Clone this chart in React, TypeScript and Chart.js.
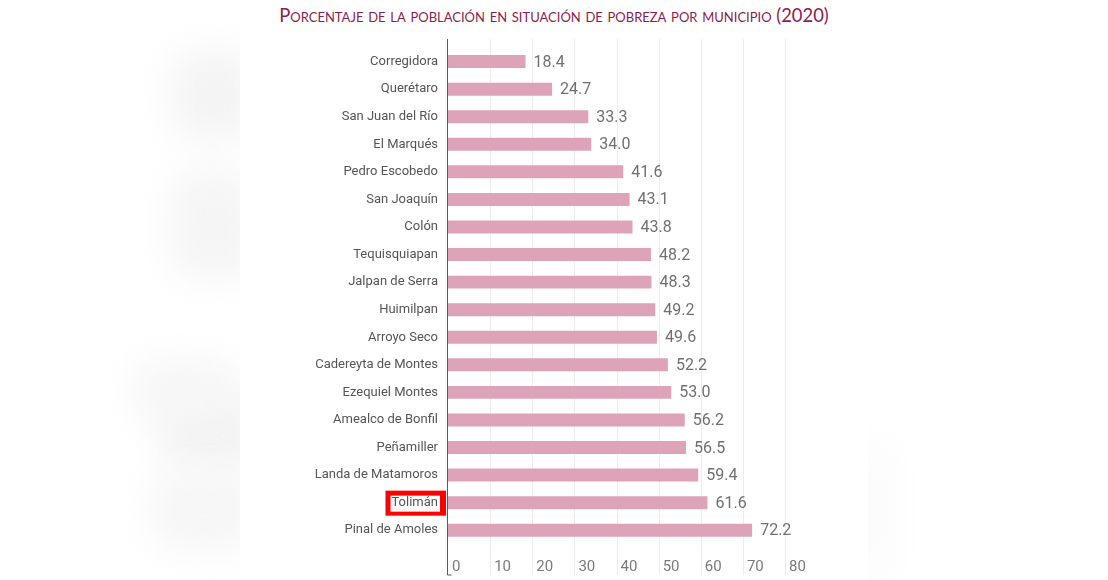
import React, { useEffect, useRef } from 'react';
import { Chart, registerables } from 'chart.js';
Chart.register(...registerables);

const title = 'Porcentaje de la población en situación de pobreza por municipio (2020)';
const categories = [
  'Corregidora', 'Querétaro', 'San Juan del Río', 'El Marqués', 'Pedro Escobedo',
  'San Joaquín', 'Colón', 'Tequisquiapan', 'Jalpan de Serra', 'Huimilpan',
  'Arroyo Seco', 'Cadereyta de Montes', 'Ezequiel Montes', 'Amealco de Bonfil',
  'Peñamiller', 'Landa de Matamoros', 'Tolimán', 'Pinal de Amoles',
];
const values = [18.4, 24.7, 33.3, 34.0, 41.6, 43.1, 43.8, 48.2, 48.3, 49.2, 49.6, 52.2, 53.0, 56.2, 56.5, 59.4, 61.6, 72.2];
const highlighted = 'Tolimán';
const xMin = 0;
const xMax = 80;
const xStep = 10;

const FONT = 'Roboto, "Noto Sans", sans-serif';
const CAT_FONT_SIZE = 13;

export default function App() {
  const ref = useRef<HTMLCanvasElement | null>(null);

  useEffect(() => {
    document.body.style.margin = '0';
    const canvas = ref.current!;
    const GRID_TOP = 9;
    const GRID_BOTTOM = 545;

    const custom = {
      id: 'custom',
      beforeDatasetsDraw(chart: any) {
        const ctx = chart.ctx;
        const xs = chart.scales.x;
        ctx.save();
        ctx.strokeStyle = '#ececec';
        ctx.lineWidth = 1;
        xs.ticks.forEach((t: any) => {
          if (t.value === xMin) return;
          const px = Math.round(xs.getPixelForValue(t.value)) + 0.5;
          ctx.beginPath();
          ctx.moveTo(px, GRID_TOP);
          ctx.lineTo(px, GRID_BOTTOM);
          ctx.stroke();
        });
        const x0 = Math.round(xs.getPixelForValue(xMin)) - 0.5;
        ctx.strokeStyle = '#6e4f5a';
        ctx.beginPath();
        ctx.moveTo(x0, GRID_TOP);
        ctx.lineTo(x0, GRID_BOTTOM);
        ctx.lineTo(x0 + 4, GRID_BOTTOM);
        ctx.stroke();
        ctx.restore();
      },
      afterDatasetsDraw(chart: any) {
        const ctx = chart.ctx;
        const meta = chart.getDatasetMeta(0);
        ctx.save();
        ctx.font = `16px ${FONT}`;
        ctx.fillStyle = '#707070';
        ctx.textAlign = 'left';
        ctx.textBaseline = 'middle';
        meta.data.forEach((bar: any, i: number) => {
          ctx.fillText(values[i].toFixed(1), bar.x + 8, bar.y + 1);
        });
        ctx.restore();
      },
      afterDraw(chart: any) {
        const ctx = chart.ctx;
        const ys = chart.scales.y;
        const idx = categories.indexOf(highlighted);
        if (idx < 0) return;
        const py = ys.getPixelForValue(idx);
        ctx.save();
        ctx.font = `${CAT_FONT_SIZE}px ${FONT}`;
        const w = ctx.measureText(highlighted).width;
        const right = ys.right - 10;
        const left = right - w;
        ctx.fillStyle = '#ff0000';
        ctx.fillRect(left - 6, py - 12, w + 14, 25);
        ctx.fillStyle = '#ffffff';
        ctx.fillRect(left - 1, py - 7, w + 3, 16);
        ctx.fillStyle = '#555555';
        ctx.textAlign = 'right';
        ctx.textBaseline = 'middle';
        ctx.fillText(highlighted, right, py);
        ctx.restore();
      },
    };

    const chart = new Chart(canvas, {
      type: 'bar',
      data: {
        labels: categories,
        datasets: [{
          data: values,
          backgroundColor: '#dca3b9',
          barPercentage: 0.47,
          categoryPercentage: 1,
        }],
      },
      options: {
        indexAxis: 'y',
        animation: false,
        responsive: false,
        maintainAspectRatio: false,
        layout: { padding: { top: 16, right: 83, left: 0, bottom: 0 } },
        plugins: {
          legend: { display: false },
          tooltip: { enabled: false },
          title: { display: false },
        },
        scales: {
          x: {
            type: 'linear',
            min: xMin,
            max: xMax,
            grid: { display: false, drawTicks: false },
            border: { display: false },
            ticks: {
              stepSize: xStep,
              align: 'start',
              labelOffset: 4,
              padding: 14,
              color: '#7a7a7a',
              font: { family: FONT, size: 15 },
            },
            afterFit(scale: any) { scale.height = 36; },
          },
          y: {
            type: 'category',
            grid: { display: false, drawTicks: false },
            border: { display: false },
            ticks: {
              padding: 10,
              color: '#555555',
              font: { family: FONT, size: CAT_FONT_SIZE },
            },
            afterFit(scale: any) { scale.width = 208; },
          },
        },
      },
      plugins: [custom],
    });
    return () => chart.destroy();
  }, []);

  const blob = (left: number, top: number, w: number, h: number, c: string) => (
    <div style={{ position: 'absolute', left, top, width: w, height: h, background: c, filter: 'blur(18px)', borderRadius: 30 }} />
  );

  return (
    <div style={{ position: 'absolute', left: 0, top: 0, width: 1108, height: 580, background: '#ffffff', overflow: 'hidden' }}>
      {blob(170, 50, 90, 90, '#f4f4f4')}
      {blob(170, 170, 90, 110, '#f5f5f5')}
      {blob(160, 390, 100, 80, '#f3f3f3')}
      {blob(130, 360, 110, 60, '#f6f6f6')}
      {blob(150, 470, 110, 80, '#f6f6f6')}
      {blob(860, 440, 30, 140, '#fafafa')}
      <div style={{ position: 'absolute', left: 240, top: 0, width: 628, height: 580, background: '#ffffff' }} />
      <div style={{
        position: 'absolute', left: 240, top: 3, width: 628, textAlign: 'center',
        fontFamily: 'Lato, "Open Sans", sans-serif', fontSize: 18.4, fontVariant: 'small-caps',
        color: '#8c1d4f', lineHeight: '24px', whiteSpace: 'nowrap',
      }}>{title}</div>
      <canvas ref={ref} width={628} height={550} style={{ position: 'absolute', left: 240, top: 30, width: 628, height: 550 }} />
    </div>
  );
}
